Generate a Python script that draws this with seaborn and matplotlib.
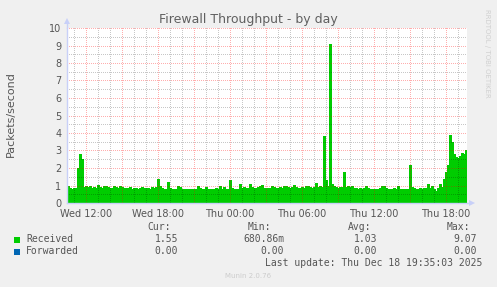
import numpy as np
import pandas as pd
import matplotlib
matplotlib.use("Agg")
import matplotlib.pyplot as plt
from matplotlib.ticker import MultipleLocator, FuncFormatter
from matplotlib.patches import Rectangle
import seaborn as sns

# ---------------- data ----------------
title = "Firewall Throughput - by day"
y_label = "Packets/second"
start_hour = 10 + 25 / 60          # Wed 10:25 (hours since Wed 00:00)
step_minutes = 10
day_names = ["Wed", "Thu"]

received = [
    0.95, 0.85, 0.80, 0.88, 0.85, 2.00, 2.80, 2.50, 0.90, 0.95,
    0.90, 0.95, 0.85, 0.92, 0.88, 1.05, 0.90, 0.85, 0.95, 1.00,
    0.92, 0.88, 0.85, 0.95, 0.90, 0.85, 1.00, 0.90, 0.88, 0.85,
    0.85, 0.90, 0.82, 0.85, 0.88, 0.80, 0.85, 0.90, 0.85, 0.88,
    0.85, 0.82, 0.90, 0.85, 0.92, 1.40, 1.00, 0.85, 0.82, 0.80,
    1.20, 0.85, 0.80, 0.78, 0.82, 0.95, 0.92, 0.80, 0.78, 0.80,
    0.78, 0.80, 0.82, 0.78, 0.80, 0.95, 0.88, 0.80, 0.82, 0.90,
    0.80, 0.78, 0.82, 0.80, 0.85, 0.78, 1.00, 0.82, 0.90, 0.80,
    0.82, 1.30, 0.85, 0.80, 0.78, 0.82, 1.10, 0.88, 0.90, 0.85,
    0.85, 1.10, 0.90, 0.85, 0.88, 0.90, 1.00, 1.02, 0.85, 0.88,
    0.88, 0.85, 0.95, 0.90, 0.88, 0.85, 0.90, 0.88, 1.00, 1.00,
    0.90, 0.88, 0.92, 1.05, 0.90, 0.88, 0.85, 0.90, 0.88, 1.00,
    0.95, 0.90, 0.88, 0.92, 1.15, 0.90, 0.95, 0.92, 3.85, 1.30,
    0.95, 9.07, 1.10, 0.95, 0.90, 0.88, 0.90, 0.92, 1.80, 0.90,
    0.95, 0.92, 0.95, 0.85, 0.88, 0.82, 0.85, 0.80, 0.85, 0.95,
    0.85, 0.80, 0.82, 0.78, 0.80, 0.82, 0.85, 1.00, 1.00, 0.85,
    0.80, 0.82, 0.78, 0.85, 0.80, 1.00, 0.82, 0.78, 0.80, 0.82,
    0.80, 2.20, 0.90, 0.85, 0.82, 0.80, 0.85, 0.82, 0.88, 0.85,
    1.10, 0.85, 1.00, 0.82, 0.68, 0.85, 1.10, 0.90, 1.40, 1.75,
    2.20, 3.90, 3.50, 2.80, 2.65, 2.60, 2.70, 2.85, 2.80, 3.05,
]
forwarded = [0.0] * len(received)

legend_names = ["Received", "Forwarded"]
legend_colors = ["#00cc00", "#0066b3"]
stat_headers = ["Cur:", "Min:", "Avg:", "Max:"]
stats_received = ["1.55", "680.86m", "1.03", "9.07"]
stats_forwarded = ["0.00", "0.00", "0.00", "0.00"]
last_update = "Last update: Thu Dec 18 19:35:03 2025"
footer = "Munin 2.0.76"
side_text = "RRDTOOL / TOBI OETIKER"

# ---------------- figure ----------------
W, H = 497, 287
AX_L, AX_T, AX_W, AX_H = 67, 28, 400, 175
sns.set_style("white")
plt.rcParams["font.family"] = ["DejaVu Sans"]

n = len(received)
hours = start_hour + np.arange(n) * step_minutes / 60.0
df = pd.DataFrame({"hour": hours, "received": received, "forwarded": forwarded})
edges = start_hour + np.arange(n + 1) * step_minutes / 60.0
rec_ext = np.append(df["received"].values, df["received"].values[-1])
fwd_ext = np.append(df["forwarded"].values, df["forwarded"].values[-1])

fig = plt.figure(figsize=(W / 100, H / 100), dpi=100, facecolor="#f0f0f0")
ax = fig.add_axes([AX_L / W, (H - AX_T - AX_H) / H, AX_W / W, AX_H / H])
ax.set_facecolor("white")

ax.fill_between(edges, 0, rec_ext, step="post", color=legend_colors[0], lw=0,
                zorder=1, antialiased=False)
ax.fill_between(edges, rec_ext, rec_ext + fwd_ext, step="post", color=legend_colors[1],
                lw=0, zorder=1, antialiased=False)
sns.lineplot(data=df, x="hour", y="received", ax=ax, color=legend_colors[0],
             drawstyle="steps-post", lw=0.5, zorder=1.5, antialiased=False)

x0, x1 = edges[0], edges[-1]
y0, y1 = 0, 10

# ---- dotted rrdtool-style grid, rendered pixel-exact as an overlay ----
grid = np.zeros((AX_H, AX_W, 4))
minor_rgba = (0.0, 0.0, 0.0, 0.22)
major_rgba = (1.0, 0.0, 0.0, 0.32)

def col_of(h):
    return int(round((h - x0) / (x1 - x0) * AX_W))

def row_of(v):
    return int(round((y1 - v) / (y1 - y0) * AX_H))

hours_grid = np.arange(np.ceil(x0), x1, 1.0)
for is_major in (False, True):
    rgba = major_rgba if is_major else minor_rgba
    for h in hours_grid:
        if (int(h) % 3 == 0) != is_major:
            continue
        c = col_of(h)
        if 0 <= c < AX_W:
            grid[0::2, c] = rgba
    vals = np.arange(1, 11, 1.0) if is_major else np.arange(0.5, 10, 1.0)
    for v in vals:
        r = row_of(v)
        if 0 <= r < AX_H:
            grid[r, 0::2] = rgba
ax.imshow(grid, extent=(x0, x1, y0, y1), aspect="auto", interpolation="none",
          zorder=2)

ax.set_xlim(x0, x1)
ax.set_ylim(y0, y1)

def xfmt(h, pos):
    hh = int(round(h))
    if hh % 6 != 0:
        return ""
    return f"{day_names[hh // 24]} {hh % 24:02d}:00"

ax.xaxis.set_major_locator(MultipleLocator(3))
ax.xaxis.set_major_formatter(FuncFormatter(xfmt))
ax.yaxis.set_major_locator(MultipleLocator(1))
ax.grid(False)

text_col = "#555555"
ax.tick_params(axis="both", which="major", length=2, width=0.72, color="#f09090",
               labelsize=7, labelcolor=text_col, pad=2)
ax.set_xlabel("")
ax.set_ylabel("")

spine_col = "#c8d0f8"
for s in ["top", "right"]:
    ax.spines[s].set_visible(False)
for s in ["left", "bottom"]:
    ax.spines[s].set_color(spine_col)
    ax.spines[s].set_linewidth(1)
    ax.spines[s].set_zorder(3)
# axis arrows
ax.plot([0, 0], [1, 1.035], transform=ax.transAxes, color=spine_col, lw=1, clip_on=False)
ax.plot([0], [1.04], transform=ax.transAxes, marker="^", ms=4, color=spine_col, clip_on=False, mew=0)
ax.plot([1, 1.01], [0, 0], transform=ax.transAxes, color=spine_col, lw=1, clip_on=False)
ax.plot([1.012], [0], transform=ax.transAxes, marker=">", ms=4, color=spine_col, clip_on=False, mew=0)

def fx(px):
    return px / W

def fy(py):
    return 1 - py / H

fig.text(fx(248), fy(19), title, ha="center", va="center", fontsize=9, color="#606060")
fig.text(fx(11), fy(114), y_label, ha="center", va="center", rotation=90, fontsize=8,
         color=text_col)

mono = dict(family="DejaVu Sans Mono", fontsize=7, color=text_col, va="center")
header_right = [171, 271, 371, 470]
value_right = [178, 284, 377, 477]
for hx, h in zip(header_right, stat_headers):
    fig.text(fx(hx), fy(227), h, ha="right", **mono)
rows_y = [239.5, 251.5]
for r, (name, col, vals) in enumerate(zip(legend_names, legend_colors, [stats_received, stats_forwarded])):
    y = rows_y[r]
    fig.patches.append(Rectangle((fx(14), fy(y + 3)), 6 / W, 6 / H, transform=fig.transFigure,
                                 facecolor=col, edgecolor="none"))
    fig.text(fx(26), fy(y), name, ha="left", **mono)
    for vx, v in zip(value_right, vals):
        fig.text(fx(vx), fy(y), v, ha="right", **mono)
fig.text(fx(482), fy(263), last_update, ha="right", **mono)
fig.text(fx(248), fy(276), footer, ha="center", va="center", fontsize=5, color="#cccccc")
fig.text(fx(487), fy(53), side_text, ha="center", va="center", rotation=270, fontsize=5, color="#d0d0d0")

fig.savefig("out.png", dpi=100, facecolor=fig.get_facecolor())
